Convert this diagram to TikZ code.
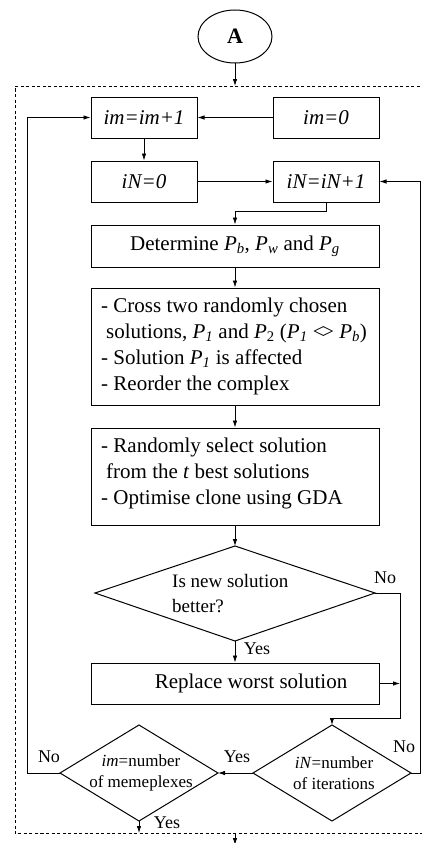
\documentclass[tikz,border=0pt]{standalone}
\usepackage{fontspec}
\setmainfont{Liberation Serif}
\usetikzlibrary{arrows.meta,shapes.geometric}
\begin{document}
\begin{tikzpicture}[x=1pt,y=-1pt,
 box/.style={draw,line width=1pt,minimum width=106pt,minimum height=41pt,inner sep=0pt,font=\fontsize{21}{26}\selectfont},
 wide/.style={box,minimum width=288pt},
 txt/.style={inner sep=0pt,align=left,font=\fontsize{21}{26}\selectfont},
 dtxt/.style={inner sep=0pt,align=center,font=\fontsize{17}{21}\selectfont},
 lbl/.style={inner sep=0pt,font=\fontsize{18}{20}\selectfont},
 arr/.style={line width=0.8pt,-{Latex[length=7pt,width=4.5pt]}},
 ln/.style={line width=1pt},
 frame/.style={line width=0.8pt,dash pattern=on 3pt off 2.5pt}]
\useasboundingbox (0,0) rectangle (422,843);
% frame
\draw[frame] (425,86) -- (15,86) -- (15,833) -- (425,833);
\coordinate (ftop) at (235,86);
\coordinate (fbot) at (235,833);
\coordinate (out) at (235,845);
% nodes
\node[draw,ellipse,line width=1pt,minimum width=74pt,minimum height=53pt,inner sep=0pt,font=\fontsize{22}{26}\selectfont\bfseries] (A) at (235,36.5) {A};
\node[box] (imp) at (144,117.5) {\textit{im=im+1}};
\node[box] (im0) at (326,117.5) {\textit{im=0}};
\node[box] (iN0) at (144,181.5) {\textit{iN=0}};
\node[box] (iNp) at (326,181.5) {\textit{iN=iN+1}};
\node[wide,minimum height=42pt] (det) at (235,246) {Determine \textit{P}\textsubscript{\textit{b}}, \textit{P}\textsubscript{\textit{w}} and \textit{P}\textsubscript{\textit{g}}};
\node[wide,minimum height=117pt] (cross) at (235,346.5) {};
\node[txt,anchor=west] (crosst) at (101,346.5) {- Cross two randomly chosen\\
\hspace*{5pt}solutions, \textit{P}\textsubscript{\textit{1}} and \textit{P}\textsubscript{2} (\textit{P}\textsubscript{\textit{1}} <\kern-.12em> \textit{P}\textsubscript{\textit{b}})\\
- Solution \textit{P}\textsubscript{\textit{1}} is affected\\
- Reorder the complex};
\node[wide,minimum height=97pt] (rand) at (235,476.5) {};
\node[txt,anchor=west] (randt) at (101,473.5) {- Randomly select solution\\
\hspace*{5pt}from the \textit{t} best solutions\\
- Optimise clone using GDA};
\node[wide,minimum height=41pt] (rep) at (235,683.5) {};
\node[txt] (rept) at (251,683.5) {Replace worst solution};
% diamonds
\coordinate (d1n) at (235,546); \coordinate (d1e) at (375,593);
\coordinate (d1s) at (235,641); \coordinate (d1w) at (95,593);
\draw[ln] (d1n) -- (d1e) -- (d1s) -- (d1w) -- cycle;
\node[inner sep=0pt,align=left,font=\fontsize{19}{25}\selectfont,anchor=west] (d1t) at (172,594) {Is new solution\\better?};
\coordinate (d2n) at (332,725); \coordinate (d2e) at (411,773);
\coordinate (d2s) at (332,821); \coordinate (d2w) at (253,773);
\draw[ln] (d2n) -- (d2e) -- (d2s) -- (d2w) -- cycle;
\node[dtxt] (d2t) at (334,773) {\textit{iN}=number\\of iterations};
\coordinate (d3n) at (139,725); \coordinate (d3e) at (218,773);
\coordinate (d3s) at (139,821); \coordinate (d3w) at (60,773);
\draw[ln] (d3n) -- (d3e) -- (d3s) -- (d3w) -- cycle;
\node[dtxt] (d3t) at (141,773) {\textit{im}=number\\of memeplexes};
% helper coordinates
\coordinate (c1) at (400,593);
\coordinate (c2) at (400,718);
\coordinate (rr) at (420,773);
\coordinate (ll) at (27,773);
\coordinate (d3out) at (139,833);
% connectors
\draw[arr] (A.south) -- (ftop);
\draw[arr] (im0.west) -- (imp.east);
\draw[arr] (imp.south) -- (iN0.north);
\draw[arr] (iN0.east) -- (iNp.west);
\draw[arr] (iNp.south) -- ++(0,9) -| (det.north);
\draw[arr] (det.south) -- (cross.north);
\draw[arr] (cross.south) -- (rand.north);
\draw[arr] (rand.south) -- (d1n);
\draw[arr] (d1s) -- (rep.north);
\draw[arr] (d1e) -- (c1) -- (c2) -| (d2n);
\draw[arr] (rep.east) -- (rep.east -| c1);
\draw[arr] (d2e) -- (rr) |- (iNp.east);
\draw[arr] (d2w) -- (d3e);
\draw[arr] (d3w) -- (ll) |- (imp.west);
\draw[arr] (d3s) -- (d3out);
\draw[arr] (fbot) -- (out);
% labels
\node[lbl] (no1) at (385,578) {No};
\node[lbl] (yes1) at (257,649) {Yes};
\node[lbl] (no2) at (404,747) {No};
\node[lbl] (yes2) at (237,757) {Yes};
\node[lbl] (no3) at (49,757) {No};
\node[lbl] (yes3) at (167,823) {Yes};
\end{tikzpicture}
\end{document}
